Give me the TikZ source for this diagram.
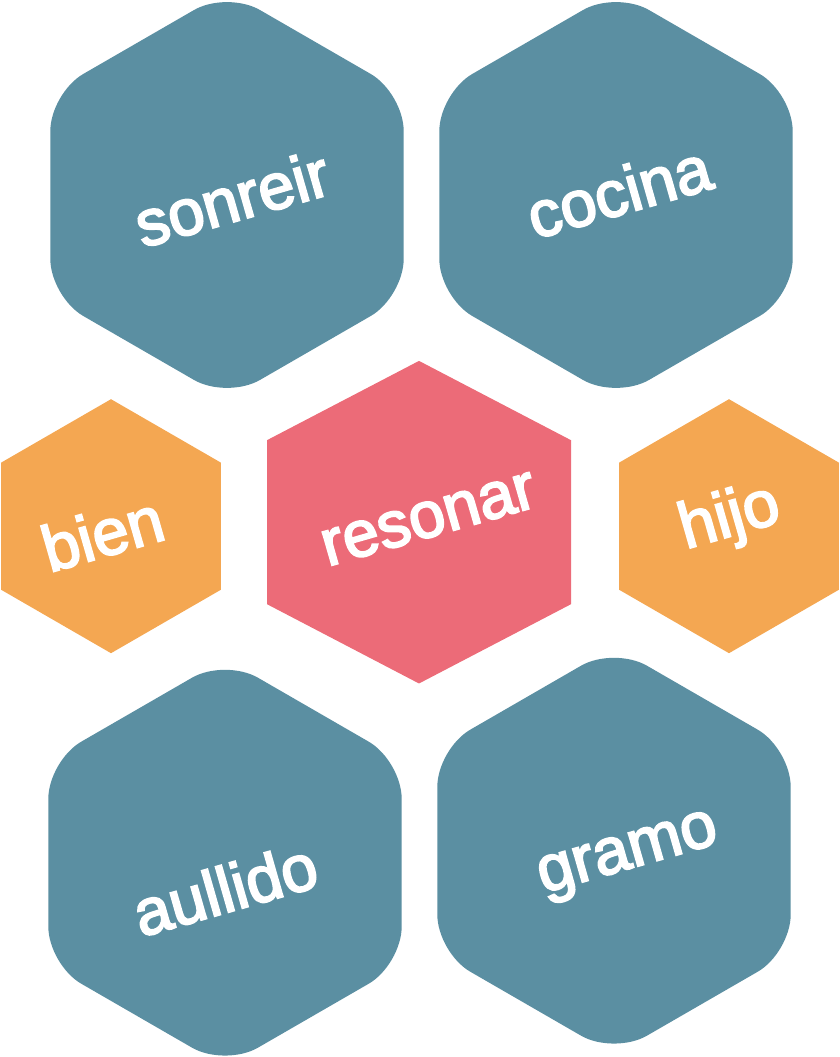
\documentclass[tikz,border=0pt]{standalone}
\usepackage{fontspec}
\newfontfamily\HXsans[FakeBold=3]{Liberation Sans}
\definecolor{HXteal}{HTML}{5B8FA2}
\definecolor{HXpink}{HTML}{EC6B78}
\definecolor{HXorange}{HTML}{F4A752}
\tikzset{
  hxbig/.style={fill=HXteal, rounded corners=38pt},
  hxmid/.style={fill=HXpink},
  hxsmall/.style={fill=HXorange},
  hxlbl/.style={text=white, font=\HXsans\fontsize{65}{65}\selectfont, rotate=16, inner sep=0pt},
}
\newcommand{\hexcell}[2]{(#1) ++(90:#2) -- ++(210:#2) -- ++(270:#2) -- ++(330:#2) -- ++(30:#2) -- ++(90:#2) -- cycle}
\begin{document}
\begin{tikzpicture}[x=1pt, y=1pt]
  \useasboundingbox (0,0) rectangle (840,1057);
  \fill[hxbig] \hexcell{227,862}{204};
  \fill[hxbig] \hexcell{616,862}{204};
  \fill[hxsmall] \hexcell{111,530.8}{127};
  \fill[hxsmall] \hexcell{729,530.8}{127};
  \fill[hxmid] (419,696.1) -- (267,616.8) -- (267,452.8) -- (419,373.5) -- (571,452.8) -- (571,616.8) -- cycle;
  \fill[hxbig] \hexcell{225,194.3}{204};
  \fill[hxbig] \hexcell{614,206.3}{204};
  \node[hxlbl] (sonreir) at (231.8,858.7) {sonreir};
  \node[hxlbl] (cocina)  at (618.8,865.8) {cocina};
  \node[hxlbl] (bien)    at (102.5,523.7) {bien};
  \node[hxlbl] (resonar) at (429,537.5)   {resonar};
  \node[hxlbl] (hijo)    at (730,538)     {hijo};
  \node[hxlbl] (aullido) at (225,168)     {aullido};
  \node[hxlbl] (gramo)   at (629,199.5)   {gramo};
\end{tikzpicture}
\end{document}
